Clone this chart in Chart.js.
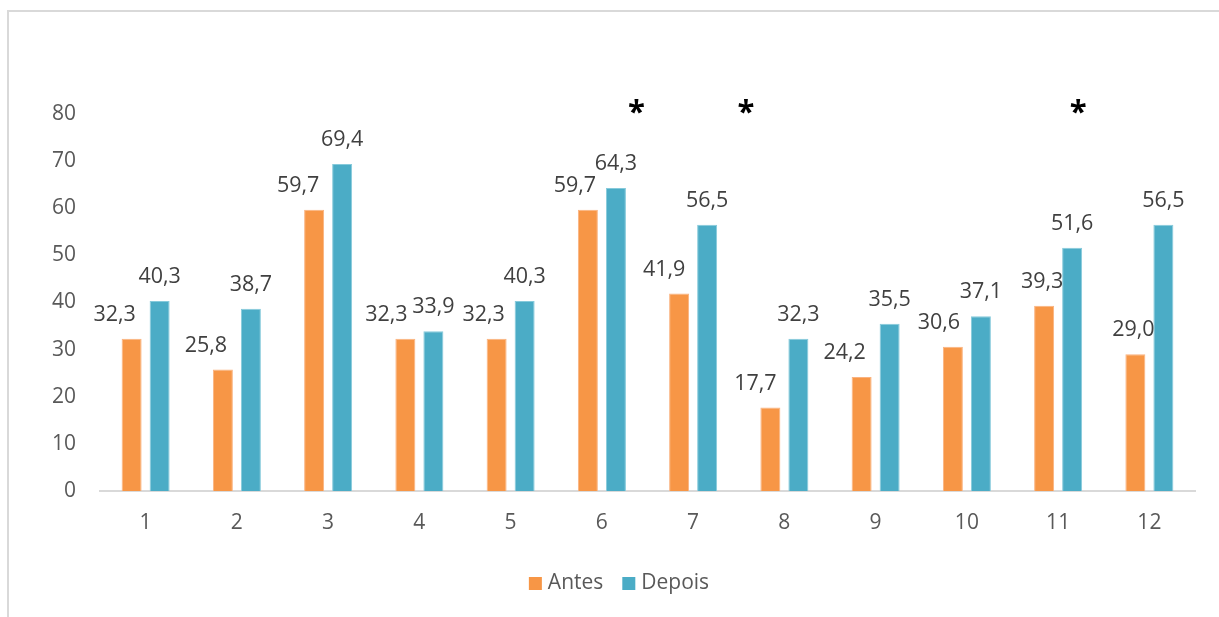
<!DOCTYPE html>
<html>
<head>
<meta charset="utf-8">
<title>Antes / Depois</title>
<script src="https://cdn.jsdelivr.net/npm/chart.js@4.4.1/dist/chart.umd.min.js"></script>
<style>
  html, body { margin: 0; padding: 0; background: #fff; }
  #wrap { position: relative; width: 1219px; height: 617px; }
</style>
</head>
<body>
<div id="wrap"><canvas id="chart" width="1219" height="617"></canvas></div>
<script>
// categories and series
const categories = ['1', '2', '3', '4', '5', '6', '7', '8', '9', '10', '11', '12'];
const antes  = [32.3, 25.8, 59.7, 32.3, 32.3, 59.7, 41.9, 17.7, 24.2, 30.6, 39.3, 29.0];
const depois = [40.3, 38.7, 69.4, 33.9, 40.3, 64.3, 56.5, 32.3, 35.5, 37.1, 51.6, 56.5];
const yTicks = [0, 10, 20, 30, 40, 50, 60, 70, 80];

// significance stars, placed as fractional category positions
const starPositions = [5.38, 6.58, 10.22];

// horizontal nudge of the "Antes" value labels (px)
const antesLabelShift = [-17, -17, -16, -19, -13, -13, -15, -15, -17, -14, -2, -2];

const FONT = '"Open Sans", "Noto Sans", sans-serif';
const fmt = v => v.toFixed(1).replace('.', ',');

// frame lines (top + left) and asterisks
const framePlugin = {
  id: 'frame',
  beforeDraw(chart) {
    const ctx = chart.ctx;
    ctx.save();
    ctx.strokeStyle = '#d9d9d9';
    ctx.lineWidth = 2;
    ctx.beginPath();
    ctx.moveTo(8, 617);
    ctx.lineTo(8, 11);
    ctx.lineTo(1219, 11);
    ctx.stroke();
    ctx.restore();
  },
  afterDraw(chart) {
    const ctx = chart.ctx;
    const x = chart.scales.x;
    ctx.save();
    ctx.fillStyle = '#000';
    ctx.font = 'bold 31px ' + FONT;
    ctx.textAlign = 'center';
    ctx.textBaseline = 'middle';
    starPositions.forEach(p => {
      ctx.fillText('*', x.getPixelForValue(p), 113);
    });
    ctx.restore();
  }
};

// value labels above each bar
const valueLabels = {
  id: 'valueLabels',
  afterDatasetsDraw(chart) {
    const ctx = chart.ctx;
    ctx.save();
    ctx.fillStyle = '#404040';
    ctx.font = '21.5px ' + FONT;
    ctx.textAlign = 'center';
    ctx.textBaseline = 'middle';
    chart.data.datasets.forEach((ds, di) => {
      chart.getDatasetMeta(di).data.forEach((bar, i) => {
        const dx = di === 0 ? antesLabelShift[i] : 0;
        ctx.fillText(fmt(ds.data[i]), bar.x + dx, bar.y - 24);
      });
    });
    ctx.restore();
  }
};

// legend row under the axis: square + name, centred on the frame
const legendRow = {
  id: 'legendRow',
  afterDraw(chart) {
    const ctx = chart.ctx;
    const box = 13, gap = 6, spacing = 19, cy = 583.5;
    ctx.save();
    ctx.font = '21px ' + FONT;
    ctx.textBaseline = 'middle';
    const items = chart.data.datasets.map(ds => ({
      text: ds.label, color: ds.backgroundColor, w: ctx.measureText(ds.label).width
    }));
    const total = items.reduce((s, it) => s + box + gap + it.w, 0) + spacing * (items.length - 1);
    let x = 619 - total / 2;
    items.forEach(it => {
      ctx.fillStyle = it.color;
      ctx.fillRect(x, cy - box / 2, box, box);
      ctx.fillStyle = '#595959';
      ctx.fillText(it.text, x + box + gap, cy);
      x += box + gap + it.w + spacing;
    });
    ctx.restore();
  }
};

new Chart(document.getElementById('chart'), {
  type: 'bar',
  data: {
    labels: categories,
    datasets: [
      {
        label: 'Antes',
        data: antes,
        backgroundColor: '#f79646',
        borderColor: '#fab27f',
        borderWidth: 1,
        categoryPercentage: 0.614,
        barPercentage: 0.714
      },
      {
        label: 'Depois',
        data: depois,
        backgroundColor: '#4bacc6',
        borderColor: '#86cadb',
        borderWidth: 1,
        categoryPercentage: 0.614,
        barPercentage: 0.714
      }
    ]
  },
  options: {
    responsive: false,
    animation: false,
    layout: { padding: { top: 114, right: 24, bottom: 0, left: 0 } },
    plugins: {
      tooltip: { enabled: false },
      legend: { display: false }
    },
    scales: {
      x: {
        grid: { display: false, drawTicks: false },
        border: { color: '#d9d9d9', width: 2 },
        ticks: {
          color: '#595959',
          font: { family: FONT, size: 21 },
          padding: 19
        },
        afterFit(s) { s.height = 126; }
      },
      y: {
        min: 0,
        max: 80,
        grid: { display: false, drawTicks: false },
        border: { display: false },
        afterBuildTicks(s) { s.ticks = yTicks.map(v => ({ value: v })); },
        ticks: {
          color: '#595959',
          font: { family: FONT, size: 21 },
          padding: 24
        },
        afterFit(s) { s.width = 100; }
      }
    }
  },
  plugins: [framePlugin, valueLabels, legendRow]
});
</script>
</body>
</html>
